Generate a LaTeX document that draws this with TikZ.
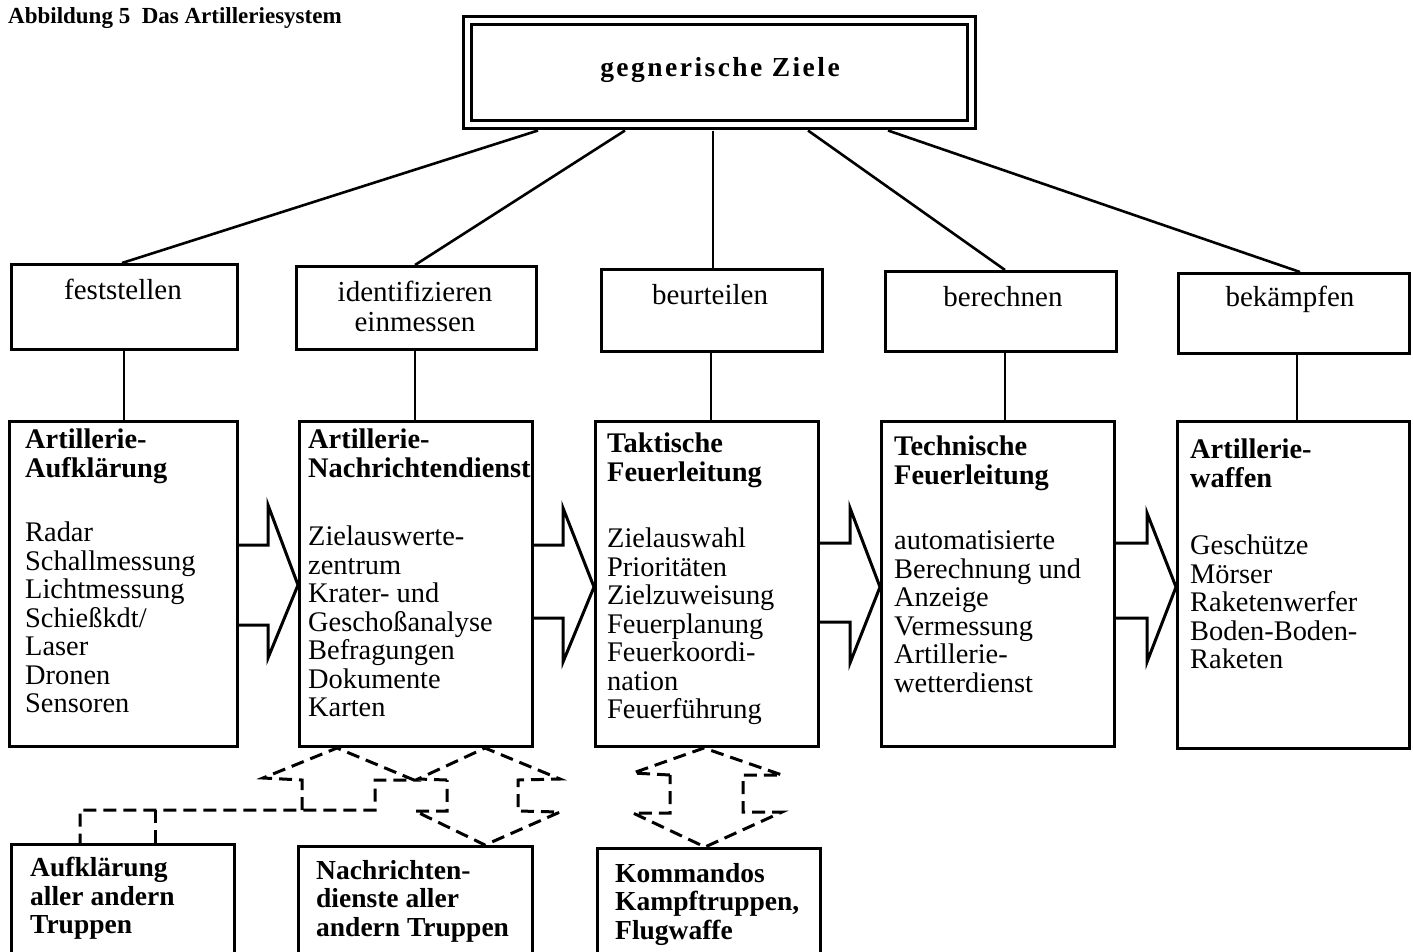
\documentclass[tikz,border=0pt]{standalone}
\usepackage{fontspec}
\setmainfont{Liberation Serif}
\begin{document}
\begin{tikzpicture}[x=1pt,y=-1pt,
  box/.style={draw, line width=3pt, rectangle, inner sep=0pt, anchor=north west},
  conn/.style={line width=2.6pt},
  blk/.style={line width=3pt, line join=miter},
  dsh/.style={line width=3pt, dash pattern=on 13pt off 7pt, line join=miter},
  lbl/.style={inner sep=0pt, font=\fontsize{29}{30}\selectfont},
  txt/.style={inner sep=0pt, anchor=north west, align=left, font=\fontsize{28.4}{28.5}\selectfont},
  btxt/.style={inner sep=0pt, anchor=north west, align=left, font=\fontsize{27.5}{28.5}\selectfont\bfseries}
]
\useasboundingbox[fill=white] (0,0) rectangle (1413,951);

% title
\node[inner sep=0pt, anchor=west, font=\fontsize{23}{26}\selectfont\bfseries] (title) at (8,18) {Abbildung 5\enspace Das Artilleriesystem};

% top box
\node[draw, double, line width=3pt, double distance=5pt, rectangle, inner sep=0pt,
      anchor=north west, minimum width=504pt, minimum height=104pt] (top) at (465.5,18.5) {};
\node[inner sep=0pt, font=\fontsize{27.5}{30}\selectfont\bfseries\addfontfeature{LetterSpace=9}] (toptxt) at (720,70) {gegnerische Ziele};

% row 2 boxes
\node[box, minimum width=226pt, minimum height=85pt] (r1) at (10,263) {};
\node[box, minimum width=240pt, minimum height=83pt] (r2) at (295,265) {};
\node[box, minimum width=221pt, minimum height=82pt] (r3) at (600,268) {};
\node[box, minimum width=231pt, minimum height=80pt] (r4) at (884,270) {};
\node[box, minimum width=231pt, minimum height=80pt] (r5) at (1177,272) {};

\node[lbl] (t1) at (123,289) {feststellen};
\node[lbl, align=center, font=\fontsize{29}{30}\selectfont] (t2) at (415,306) {identifizieren\\einmessen};
\node[lbl] (t3) at (710,295) {beurteilen};
\node[lbl] (t4) at (1003,297) {berechnen};
\node[lbl] (t5) at (1290,299) {bekämpfen};

% connectors from top box
\draw[conn] (538,0 |- top.south) ++(0,5) -- (122,0 |- r1.north);
\draw[conn] (625,0 |- top.south) ++(0,5) -- (415,0 |- r2.north);
\draw[conn] (713,0 |- top.south) ++(0,5) -- (713,0 |- r3.north);
\draw[conn] (808,0 |- top.south) ++(0,5) -- (1005,0 |- r4.north);
\draw[conn] (888,0 |- top.south) ++(0,5) -- (1300,0 |- r5.north);

% row 3 boxes
\node[box, minimum width=228pt, minimum height=325pt] (a1) at (8,420) {};
\node[box, minimum width=233pt, minimum height=325pt] (a2) at (298,420) {};
\node[box, minimum width=223pt, minimum height=325pt] (a3) at (594,420) {};
\node[box, minimum width=233pt, minimum height=325pt] (a4) at (880,420) {};
\node[box, minimum width=232pt, minimum height=327pt] (a5) at (1176,420) {};

% row 2 -> row 3
\draw[conn] (124,0 |- r1.south) -- (124,0 |- a1.north);
\draw[conn] (415,0 |- r2.south) -- (415,0 |- a2.north);
\draw[conn] (711,0 |- r3.south) -- (711,0 |- a3.north);
\draw[conn] (1005,0 |- r4.south) -- (1005,0 |- a4.north);
\draw[conn] (1297,0 |- r5.south) -- (1297,0 |- a5.north);

% texts row 3
\node[txt] (x1) at (25,429) {\textbf{Artillerie-}\\\textbf{Aufklärung}\\[36pt]Radar\\Schallmessung\\Lichtmessung\\Schießkdt/\\Laser\\Dronen\\Sensoren};
\node[txt] (x2) at (308,429) {\textbf{Artillerie-}\\\textbf{Nachrichtendienst}\\[40pt]Zielauswerte-\\zentrum\\Krater- und\\Geschoßanalyse\\Befragungen\\Dokumente\\Karten};
\node[txt] (x3) at (607,433) {\textbf{Taktische}\\\textbf{Feuerleitung}\\[38pt]Zielauswahl\\Prioritäten\\Zielzuweisung\\Feuerplanung\\Feuerkoordi-\\nation\\Feuerführung};
\node[txt] (x4) at (894,436) {\textbf{Technische}\\\textbf{Feuerleitung}\\[37pt]automatisierte\\Berechnung und\\Anzeige\\Vermessung\\Artillerie-\\wetterdienst};
\node[txt] (x5) at (1190,439) {\textbf{Artillerie-}\\\textbf{waffen}\\[39pt]Geschütze\\Mörser\\Raketenwerfer\\Boden-Boden-\\Raketen};

% block arrows
\draw[blk] (a1.east |- 0,545) -- (268,545) -- (268,505) -- (a2.west |- 0,585) -- (268,658) -- (268,625) -- (a1.east |- 0,625);
\draw[blk] (a2.east |- 0,545) -- (563,545) -- (563,508) -- (a3.west |- 0,587) -- (563,662) -- (563,618) -- (a2.east |- 0,618);
\draw[blk] (a3.east |- 0,543) -- (850,543) -- (850,508) -- (a4.west |- 0,587) -- (850,663) -- (850,622) -- (a3.east |- 0,622);
\draw[blk] (a4.east |- 0,543) -- (1147,543) -- (1147,513) -- (a5.west |- 0,587) -- (1147,662) -- (1147,618) -- (a4.east |- 0,618);

% bottom boxes
\node[box, minimum width=223pt, minimum height=140pt] (c1) at (10,843) {};
\node[box, minimum width=234pt, minimum height=140pt] (c2) at (297,845) {};
\node[box, minimum width=223pt, minimum height=140pt] (c3) at (596,847) {};

\node[btxt] (y1) at (30,857) {Aufklärung\\aller andern\\Truppen};
\node[btxt] (y2) at (316,860) {Nachrichten-\\dienste aller\\andern Truppen};
\node[btxt] (y3) at (615,863) {Kommandos\\Kampftruppen,\\Flugwaffe};

% dashed arrows
\draw[dsh] (302,810) -- (302,780) -- (263,778) -- (337,0 |- a2.south) -- (414,780) -- (375,780) -- (375,810) -- (80,810) -- (80,0 |- c1.north);
\draw[dsh] (155,810) -- (155,0 |- c1.north);
\draw[dsh] (447,780) -- (418,779) -- (485,0 |- a2.south) -- (560,779) -- (518,780) -- (518,811) -- (560,812) -- (485,0 |- c2.north) -- (415,811) -- (447,811) -- cycle;
\draw[dsh] (670,775) -- (633,773) -- (704,0 |- a3.south) -- (782,775) -- (743,775) -- (743,812) -- (782,812) -- (705,0 |- c3.north) -- (633,813) -- (670,813) -- cycle;
\end{tikzpicture}
\end{document}
